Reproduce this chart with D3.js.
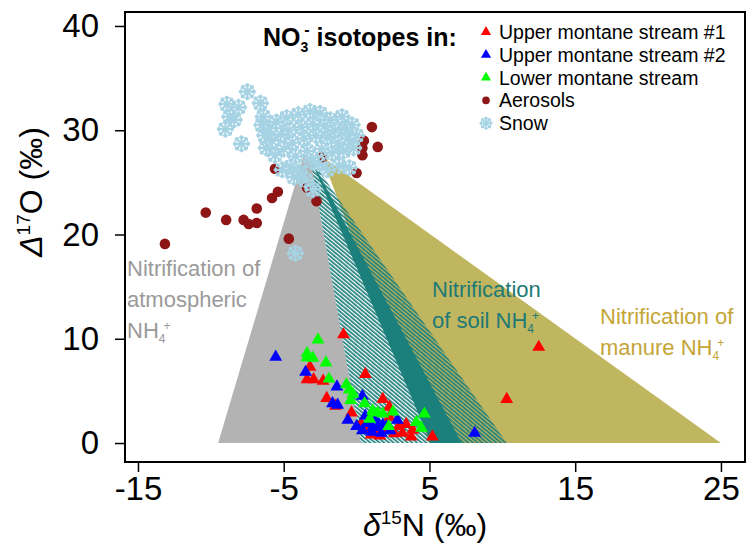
<!DOCTYPE html>
<html>
<head>
<meta charset="utf-8">
<script src="https://cdn.jsdelivr.net/npm/d3@7"></script>
<style>
	body { margin: 0; background: #fff; }
	svg { display: block; font-family: "Liberation Sans", Arial, Helvetica, sans-serif; }
	.axis text { font-size: 33px; fill: #000; }
	.axis line { stroke: #000; stroke-width: 1.5px; }
	.axis path { display: none; }
</style>
</head>
<body>
<script>
// stream NO3- samples: [d15N, D17O]
var stream1 = [[-0.9,10.4],[-3.2,7.3],[-3.4,6.1],[-2.95,6.1],[-2.3,5.95],[0.6,6.6],[-2.05,4.3],[-1.45,3.55],
	[-0.35,2.9],[1.8,4.2],[2.25,3.45],[0.7,1.25],[1.35,1.05],[1.8,1.25],[3.4,1.8],[3.85,1.25],[3.75,0.6],
	[3.15,0.95],[5.2,0.6],[12.5,9.2],[10.3,4.2],[2.25,2.5],[1.0,0.8],[1.6,0.7],[2.6,0.9],[0.3,1.8],[2.9,1.6]];
var stream2 = [[-5.55,8.25],[-3.5,6.8],[-1.35,5.4],[-1.65,3.8],[-1.3,3.65],[0.4,4.5],[-0.6,2.2],[0.0,1.6],
	[2.8,2.2],[0.75,1.9],[1.1,1.5],[1.45,1.5],[1.8,1.7],[1.05,1.05],[1.7,0.95],[2.05,1.6],[8.1,0.95],
	[0.4,1.2],[1.3,2.3],[2.3,1.2],[0.6,2.6]];
var lowerStream = [[-2.65,9.9],[-3.4,8.6],[-3.4,8.2],[-3.0,8.15],[-2.1,7.7],[-1.9,6.15],[-0.7,5.6],[-0.5,5.1],
	[-0.25,4.7],[0.55,3.8],[1.1,3.1],[1.45,2.9],[1.8,2.8],[2.5,3.0],[2.2,1.6],[4.65,2.8],[4.1,2.0],
	[4.45,1.45],[0.9,2.3],[-0.4,4.1]];
var aerosols = [[-13.15,19.1],[-10.35,22.1],[-8.95,21.4],[-7.75,21.4],[-7.4,21.0],[-6.85,21.1],[-6.85,22.5],
	[-5.8,23.5],[-5.4,24.1],[-5.6,26.3],[-3.4,24.5],[-2.75,23.2],[-4.65,19.6],[1.05,30.3],[0.5,29.0],
	[0.4,28.3],[0.4,27.6],[1.45,28.4],[0.0,25.9],[-2.35,27.4]];
var snow = [[-7.5,33.7],[-8.9,32.5],[-8.1,32.2],[-8.7,31.3],[-8.4,31.0],[-9.0,30.1],[-6.6,32.6],[-6.4,31.3],
	[-7.9,28.7],[-4.2,18.2],[-3.0,24.3],
	[-6.5,30.5],[-6.3,29.5],[-6.0,30.2],[-5.8,29.0],[-6.2,28.3],[-5.5,30.8],[-5.2,29.6],[-5.0,28.2],[-5.6,27.6],
	[-4.8,31.2],[-4.6,30.0],[-4.4,28.8],[-4.2,27.5],[-4.5,26.5],[-4.0,31.5],[-3.8,30.3],[-3.6,29.2],[-3.4,28.0],
	[-3.9,26.0],[-4.3,25.5],[-3.2,31.8],[-3.0,30.6],[-2.8,29.5],[-3.1,27.0],
	[-2.5,31.6],[-2.2,30.4],[-2.0,29.3],[-2.4,28.2],[-1.8,31.0],[-1.5,30.0],[-1.3,28.8],[-1.7,27.8],[-1.0,31.3],
	[-0.8,30.2],[-0.6,29.2],[-0.9,28.0],[-0.3,30.5],[0.0,29.5],[-0.2,28.3],[-1.2,26.6],[-0.5,26.4],[-2.6,26.8],
	[-2.0,26.2],[-5.1,26.2],[-3.5,25.2]];

// source triangles: apex + base (D17O = 0) limits
var atmApex = [-3.6, 27.7], atmBase = [-9.5, 0.3];
var soilApex = [-3.2, 27.4], soilBase = [0.3, 10.3], soilCore = [5.1, 7.2];
var manureApex = [-2.4, 27.5], manureBase = [5.0, 25];

var xTicks = [-15, -5, 5, 15, 25];
var yTicks = [0, 10, 20, 30, 40];

var legendNames = ["Upper montane stream #1", "Upper montane stream #2", "Lower montane stream", "Aerosols", "Snow"];

(function() {

	var width = 747, height = 547;
	var box = { left: 125, right: 745, top: 12, bottom: 462 };

	var svg = d3.select("body").append("svg")
		.attr("width", width)
		.attr("height", height);

	var x = d3.scaleLinear().domain([-15.89, 26.65]).range([box.left, box.right]);
	var y = d3.scaleLinear().domain([-1.82, 41.34]).range([box.bottom, box.top]);

	// hatch pattern for soil range
	var defs = svg.append("defs");
	defs.append("pattern")
		.attr("id", "hatch")
		.attr("patternUnits", "userSpaceOnUse")
		.attr("width", 3).attr("height", 3)
		.attr("patternTransform", "rotate(-50)")
		.append("rect")
		.attr("width", 1.7).attr("height", 3)
		.attr("fill", "#1b7f7b");

	var poly = function(pts) {
		return "M" + pts.map(function(p) { return x(p[0]) + "," + y(p[1]); }).join("L") + "Z";
	};

	// manure (yellow), atmospheric (gray), soil (hatched + core)
	svg.append("path")
		.attr("d", poly([manureApex, [manureBase[0], 0], [manureBase[1], 0]]))
		.attr("fill", "#c1b660");
	svg.append("path")
		.attr("d", poly([atmApex, [atmBase[0], 0], [atmBase[1], 0], soilApex]))
		.attr("fill", "#b3b3b3");
	svg.append("path")
		.attr("d", poly([soilApex, [soilBase[0], 0], [soilBase[1], 0]]))
		.attr("fill", "url(#hatch)");
	svg.append("path")
		.attr("d", poly([soilApex, [soilCore[0], 0], [soilCore[1], 0]]))
		.attr("fill", "#1b7f7b");

	// labels for source areas
	var label = function(lines, px, py, color) {
		var t = svg.append("text")
			.attr("x", px).attr("y", py)
			.attr("fill", color)
			.style("font-size", "22px");
		lines.forEach(function(l, i) {
			var ts = t.append("tspan").attr("x", px).attr("y", py + i * 31);
			if (l.nh4) {
				ts.text(l.text + "NH");
				t.append("tspan").attr("dy", 5).style("font-size", "12px").text("4");
				t.append("tspan").attr("dy", -13).attr("dx", -2).style("font-size", "12px").text("+");
			} else {
				ts.text(l.text);
			}
		});
	};
	label([{text: "Nitrification of"}, {text: "atmospheric"}, {text: "", nh4: true}], 127, 276, "#9a9a9a");
	label([{text: "Nitrification"}, {text: "of soil ", nh4: true}], 432, 297, "#1d7a74");
	label([{text: "Nitrification of"}, {text: "manure ", nh4: true}], 600, 324, "#c4a636");

	// snowflake glyph
	var flake = function(r) {
		var d = "";
		for (var k = 0; k < 8; k++) {
			var a = k * Math.PI / 4, c = Math.cos(a), s = Math.sin(a);
			d += "M0,0L" + (r * c) + "," + (r * s);
			var bx = 0.6 * r * c, by = 0.6 * r * s;
			var a1 = a + 0.7, a2 = a - 0.7;
			d += "M" + bx + "," + by + "L" + (bx + 0.35 * r * Math.cos(a1)) + "," + (by + 0.35 * r * Math.sin(a1));
			d += "M" + bx + "," + by + "L" + (bx + 0.35 * r * Math.cos(a2)) + "," + (by + 0.35 * r * Math.sin(a2));
		}
		return d;
	};

	var tri = d3.symbol().type(d3.symbolTriangle).size(72);

	var drawTri = function(data, color) {
		svg.append("g").selectAll("path")
			.data(data).enter().append("path")
			.attr("d", tri)
			.attr("transform", function(d) { return "translate(" + x(d[0]) + "," + y(d[1]) + ")"; })
			.attr("fill", color);
	};
	drawTri(stream1, "#ff0000");
	drawTri(stream2, "#0000ff");
	drawTri(lowerStream, "#00ff00");

	svg.append("g").selectAll("circle")
		.data(aerosols).enter().append("circle")
		.attr("cx", function(d) { return x(d[0]); })
		.attr("cy", function(d) { return y(d[1]); })
		.attr("r", 5.3)
		.attr("fill", "#8e1616");

	svg.append("g").selectAll("path")
		.data(snow).enter().append("path")
		.attr("d", flake(8.5))
		.attr("transform", function(d) { return "translate(" + x(d[0]) + "," + y(d[1]) + ")"; })
		.attr("fill", "none")
		.attr("stroke", "#a6d3e4")
		.attr("stroke-width", 2.2);

	// frame
	svg.append("rect")
		.attr("x", box.left).attr("y", box.top)
		.attr("width", box.right - box.left).attr("height", box.bottom - box.top)
		.attr("fill", "none").attr("stroke", "#000").attr("stroke-width", 2);

	// axes
	svg.append("g")
		.attr("class", "axis")
		.attr("transform", "translate(" + box.left + ",0)")
		.call(d3.axisLeft(y).tickValues(yTicks).tickSize(10).tickPadding(16));

	svg.append("g")
		.attr("class", "axis")
		.attr("transform", "translate(0," + box.bottom + ")")
		.call(d3.axisBottom(x).tickValues(xTicks).tickSize(10).tickPadding(5)
			.tickFormat(function(d) { return String(d); }));

	// axis titles
	var yt = svg.append("text")
		.attr("transform", "translate(42,192) rotate(-90)")
		.attr("text-anchor", "middle")
		.style("font-size", "32px");
	yt.append("tspan").style("font-style", "italic").text("Δ");
	yt.append("tspan").attr("dy", -12).style("font-size", "19px").text("17");
	yt.append("tspan").attr("dy", 12).text("O (‰)");

	var xt = svg.append("text")
		.attr("x", 425).attr("y", 536)
		.attr("text-anchor", "middle")
		.style("font-size", "32px");
	xt.append("tspan").style("font-style", "italic").text("δ");
	xt.append("tspan").attr("dy", -12).style("font-size", "19px").text("15");
	xt.append("tspan").attr("dy", 12).text("N (‰)");

	// legend
	var lt = svg.append("text")
		.attr("x", 263).attr("y", 46)
		.style("font-size", "25px").style("font-weight", "bold");
	lt.append("tspan").text("NO");
	lt.append("tspan").attr("dy", 6).style("font-size", "14px").text("3");
	lt.append("tspan").attr("dy", -17).attr("dx", -4).style("font-size", "16px").text("-");
	lt.append("tspan").attr("dy", 11).text(" isotopes in:");

	var legColors = ["#ff0000", "#0000ff", "#00ff00"];
	legendNames.forEach(function(name, i) {
		var cy = 32 + i * 22.8;
		if (i < 3) {
			svg.append("path")
				.attr("d", d3.symbol().type(d3.symbolTriangle).size(45)())
				.attr("transform", "translate(486," + cy + ")")
				.attr("fill", legColors[i]);
		} else if (i == 3) {
			svg.append("circle").attr("cx", 486).attr("cy", cy).attr("r", 3.8).attr("fill", "#8e1616");
		} else {
			svg.append("path")
				.attr("d", flake(6.5))
				.attr("transform", "translate(486," + cy + ")")
				.attr("fill", "none").attr("stroke", "#a6d3e4").attr("stroke-width", 1.8);
		}
		svg.append("text")
			.attr("x", 499).attr("y", cy + 7)
			.style("font-size", "19.5px")
			.text(name);
	});

})();
</script>
</body>
</html>
